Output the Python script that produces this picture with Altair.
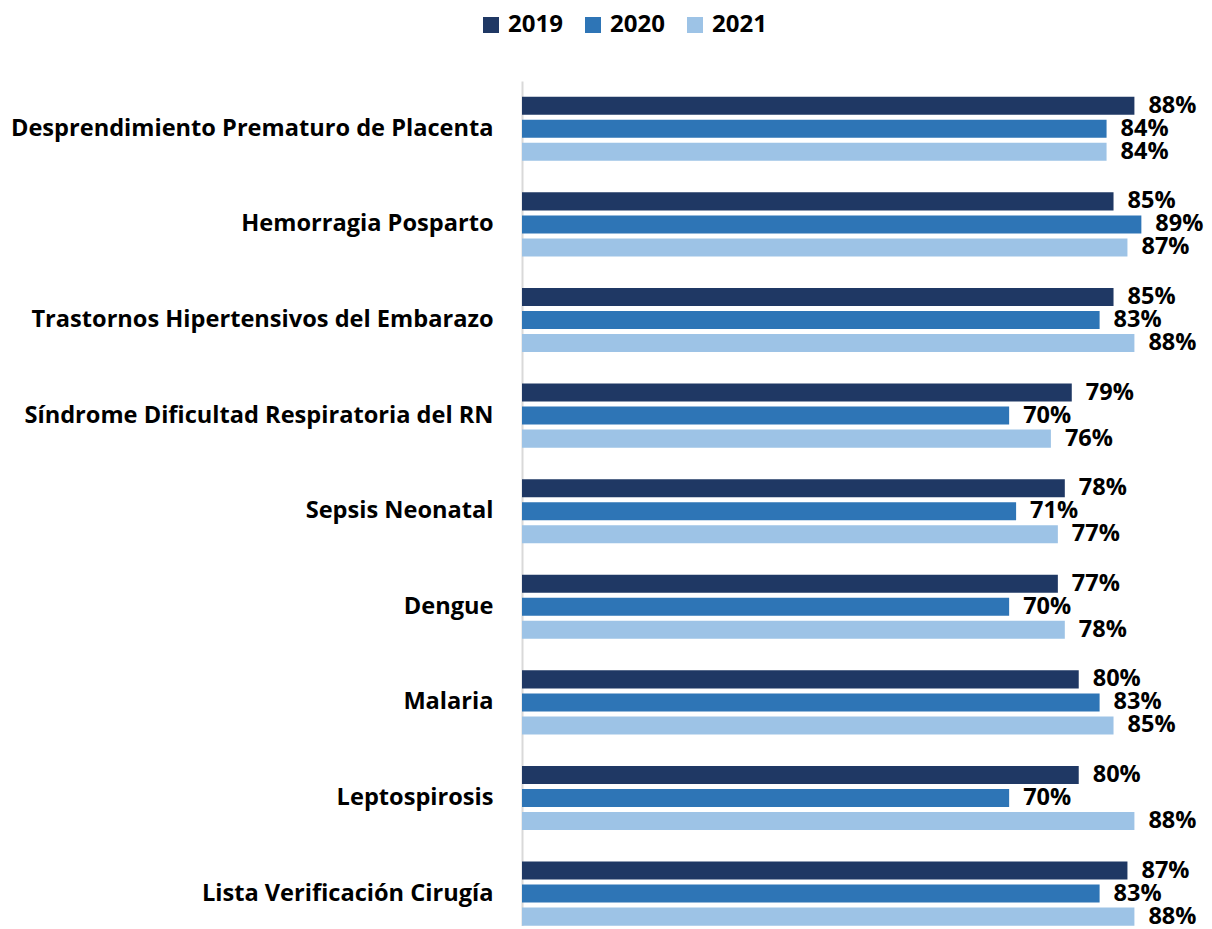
import altair as alt
import pandas as pd

categories = [
    "Desprendimiento Prematuro de Placenta",
    "Hemorragia Posparto",
    "Trastornos Hipertensivos del Embarazo",
    "Síndrome Dificultad Respiratoria del RN",
    "Sepsis Neonatal",
    "Dengue",
    "Malaria",
    "Leptospirosis",
    "Lista Verificación Cirugía",
]
years = ["2019", "2020", "2021"]
v2019 = [88, 85, 85, 79, 78, 77, 80, 80, 87]
v2020 = [84, 89, 83, 70, 71, 70, 83, 70, 83]
v2021 = [84, 87, 88, 76, 77, 78, 85, 88, 88]
colors = ["#1F3864", "#2E75B6", "#9DC3E6"]

rows = []
for i, c in enumerate(categories):
    for y, vals in zip(years, [v2019, v2020, v2021]):
        rows.append({"cat": c, "year": y, "value": vals[i] / 100})
df = pd.DataFrame(rows)

FONT = "Open Sans"

y_enc = alt.Y(
    "cat:N",
    sort=categories,
    scale=alt.Scale(range=[0, 860.4], paddingInner=0.33, paddingOuter=0.165),
    axis=alt.Axis(
        title=None,
        ticks=False,
        tickSize=0,
        labelPadding=29,
        labelFont=FONT,
        labelFontWeight="bold",
        labelFontSize=23.6,
        labelColor="#000000",
        labelLimit=600,
        domainColor="#D9D9D9",
        domainWidth=2,
        grid=False,
    ),
)
yoff = alt.YOffset("year:N", sort=years, scale=alt.Scale(paddingInner=0.217, paddingOuter=0))
x_enc = alt.X("value:Q", scale=alt.Scale(domain=[0, 0.98]), axis=None)

bars = alt.Chart(df).mark_bar().encode(
    x=x_enc,
    y=y_enc,
    yOffset=yoff,
    color=alt.Color(
        "year:N",
        sort=years,
        scale=alt.Scale(domain=years, range=colors),
        legend=alt.Legend(
            title=None,
            orient="none",
            direction="horizontal",
            legendX=-43,
            legendY=-68,
            symbolType="square",
            symbolSize=256,
            symbolStrokeWidth=0,
            symbolOpacity=1,
            labelFont=FONT,
            labelFontWeight="bold",
            labelFontSize=24,
            labelColor="#000000",
            labelOffset=5,
            columnPadding=18,
            padding=0,
        ),
    ),
)

labels = alt.Chart(df).mark_text(
    align="left",
    baseline="middle",
    dx=14,
    font=FONT,
    fontWeight="bold",
    fontSize=23.5,
    color="#000000",
).encode(
    x=x_enc,
    y=alt.Y("cat:N", sort=categories),
    yOffset=alt.YOffset("year:N", sort=years),
    text=alt.Text("value:Q", format=".0%"),
)

chart = (
    alt.layer(bars, labels)
    .properties(
        width=682,
        height=845,
        autosize=alt.AutoSizeParams(type="none"),
        padding={"left": 514, "top": 73, "right": 0, "bottom": 0},
    )
    .configure_view(stroke=None)
)

chart.save("out.html", embed_options={"renderer": "svg", "actions": False})
